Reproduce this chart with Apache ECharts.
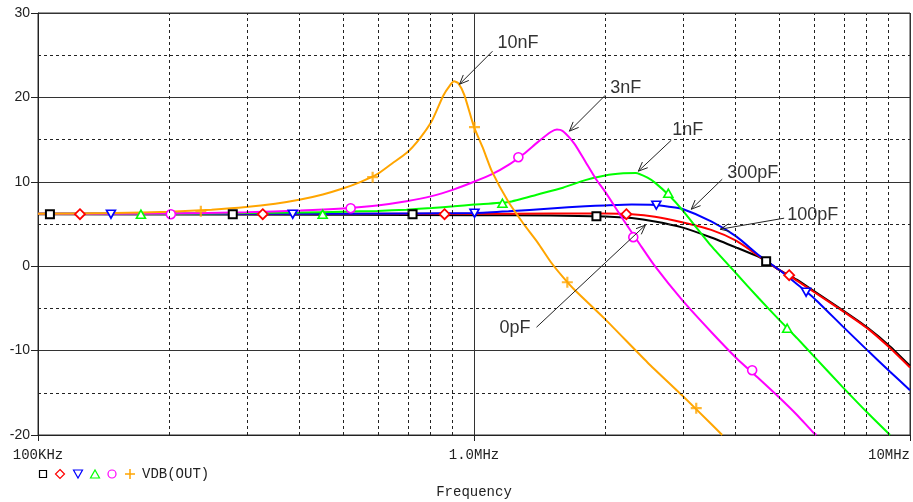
<!DOCTYPE html>
<html><head><meta charset="utf-8">
<script src="https://cdn.jsdelivr.net/npm/echarts@6/dist/echarts.min.js"></script>
<style>html,body{margin:0;padding:0;background:#fff}#c{width:913px;height:502px}</style>
</head><body><div id="c"></div>
<script>
// ---- axis ticks ----
const xTickFreqs = [1e5, 1e6, 1e7];
const xTickLabels = ['100KHz', '1.0MHz', '10MHz'];
const xMinorFreqs = [2e5,3e5,4e5,5e5,6e5,7e5,8e5,9e5,2e6,3e6,4e6,5e6,6e6,7e6,8e6,9e6];
const yMinorValues = [25, 15, 5, -5, -15];
const seriesNames = ['0pF', '100pF', '300pF', '1nF', '3nF', '10nF'];
const legendText = 'VDB(OUT)';
const xName = 'Frequency';

// ---- curves (frequency in Hz, gain in dB) ----
const freq0pF = [1e5,5e5,1e6,1.5e6,2e6,2.3e6,2.6e6,3e6,3.5e6,4e6,4.5e6,4.68e6,5e6,5.5e6,6e6,7e6,8e6,9e6,1e7];
const db0pF   = [6.15,6.1,6.05,6.0,5.9,5.7,5.3,4.6,3.4,2.2,1.1,0.6,-0.4,-1.6,-2.9,-5.2,-7.3,-9.5,-11.8];

const freq100pF = [1e5,1e6,1.5e6,2e6,2.3e6,2.6e6,3e6,3.5e6,4e6,4.5e6,5e6,5.5e6,6e6,7e6,8e6,9e6,1e7];
const db100pF   = [6.2,6.2,6.25,6.25,6.15,5.85,5.2,4.3,3.0,1.2,-0.4,-1.7,-3.0,-5.3,-7.4,-9.7,-12.0];

const freq300pF = [1e5,5e5,1e6,1.2e6,1.5e6,1.8e6,2e6,2.3e6,2.6e6,2.8e6,3e6,3.5e6,4e6,4.5e6,5e6,5.5e6,6e6,7e6,8e6,9e6,1e7];
const db300pF   = [6.2,6.2,6.3,6.5,6.85,7.1,7.2,7.3,7.25,7.05,6.8,5.3,3.5,1.3,-0.4,-2.1,-3.7,-7.1,-10.0,-12.5,-14.7];

const freq1nF = [1e5,2e5,3e5,4e5,5e5,6e5,7e5,8e5,9e5,1e6,1.2e6,1.4e6,1.6e6,1.8e6,2e6,2.2e6,2.35e6,2.5e6,2.6e6,2.8e6,3e6,3.5e6,4e6,4.5e6,5e6,5.5e6,6e6,7e6,8e6,9e6];
const db1nF   = [6.2,6.2,6.3,6.35,6.45,6.55,6.7,6.9,7.1,7.3,7.6,8.5,9.3,10.2,10.75,11.0,11.05,10.5,9.9,8.4,6.7,2.4,-0.9,-3.8,-6.3,-8.5,-10.6,-14.3,-17.4,-20.0];

const freq3nF = [1e5,2e5,3e5,4e5,5e5,6e5,7e5,8e5,9e5,1e6,1.1e6,1.2e6,1.3e6,1.4e6,1.5e6,1.55e6,1.6e6,1.7e6,1.8e6,1.9e6,2e6,2.2e6,2.4e6,2.6e6,3e6,3.5e6,4e6,4.5e6,5e6,5.5e6,6e6,6.1e6];
const db3nF   = [6.2,6.25,6.4,6.6,6.85,7.2,7.7,8.3,9.1,10.0,10.9,12.0,13.3,14.7,15.9,16.2,16.0,14.5,12.4,10.4,8.8,5.5,2.6,0.0,-4.0,-7.8,-10.9,-13.3,-15.5,-17.6,-19.7,-20.0];

const freq10nF = [1e5,1.5e5,2e5,2.5e5,3e5,3.5e5,4e5,4.5e5,5e5,5.5e5,6e5,6.5e5,7e5,7.5e5,8e5,8.5e5,8.8e5,9e5,9.2e5,9.5e5,1e6,1.05e6,1.1e6,1.2e6,1.3e6,1.4e6,1.5e6,1.6e6,1.7e6,2e6,2.5e6,3e6,3.5e6,3.71e6];
const db10nF   = [6.2,6.3,6.45,6.7,7.0,7.4,7.9,8.5,9.2,10.0,10.9,12.2,13.4,15.1,17.2,20.2,21.4,21.9,21.7,20.3,16.5,13.9,11.2,7.6,5.0,2.8,0.5,-1.3,-2.8,-6.3,-11.4,-15.3,-18.7,-20.0];

// ---- trace markers ----
const markFreq0pF = [1.065e5,2.797e5,7.229e5,1.909e6,4.678e6];
const markDb0pF   = [6.16,6.16,6.16,5.92,0.59];
const markFreq100pF = [1.248e5,3.277e5,8.559e5,2.236e6,5.283e6];
const markDb100pF   = [6.16,6.16,6.16,6.16,-1.07];
const markFreq300pF = [1.47e5,3.839e5,1.0026e6,2.619e6,5.776e6];
const markDb300pF   = [6.16,6.16,6.28,7.23,-3.08];
const markFreq1nF = [1.722e5,4.497e5,1.162e6,2.79e6,5.227e6];
const markDb1nF   = [6.16,6.16,7.46,8.65,-7.35];
const markFreq3nF = [2.017e5,5.213e5,1.264e6,2.319e6,4.345e6];
const markDb3nF   = [6.16,6.87,12.91,3.44,-12.32];
const markFreq10nF = [2.363e5,5.855e5,1.0026e6,1.637e6,3.234e6];
const markDb10nF   = [6.52,10.55,16.47,-1.90,-16.82];

// ---- annotation anchors (frequency, dB) ----
const annotations = [
  {text:'10nF',  at:[1.132e6,26.4], from:[1.1025e6,25.47], to:[9.265e5,21.56]},
  {text:'3nF',   at:[2.054e6,21.1], from:[2.001e6,20.26],  to:[1.655e6,16.0]},
  {text:'1nF',   at:[2.85e6,16.1],  from:[2.835e6,14.93],  to:[2.382e6,11.26]},
  {text:'300pF', at:[3.809e6,11.0], from:[3.71e6,10.31],   to:[3.15e6,6.75]},
  {text:'100pF', at:[5.227e6,6.04], from:[5.144e6,5.69],   to:[3.67e6,4.38]},
  {text:'0pF',   at:[1.144e6,-7.35],from:[1.391e6,-7.23],  to:[2.472e6,4.86]}
];

const colors = ['#000000','#ff0000','#0000ff','#00ff00','#ff00ff','#ffa500'];
const curveFreqs = [freq0pF,freq100pF,freq300pF,freq1nF,freq3nF,freq10nF];
const curveDbs = [db0pF,db100pF,db300pF,db1nF,db3nF,db10nF];
const markFreqs = [markFreq0pF,markFreq100pF,markFreq300pF,markFreq1nF,markFreq3nF,markFreq10nF];
const markDbs = [markDb0pF,markDb100pF,markDb300pF,markDb1nF,markDb3nF,markDb10nF];
const plusPath = 'path://M4,0H6V4H10V6H6V10H4V6H0V4H4Z';
const symbols = [
  {symbol:'rect', size:8, rot:0, bw:2},
  {symbol:'diamond', size:[10,10], rot:0, bw:1.8},
  {symbol:'triangle', size:[9,8], rot:180, bw:1.6},
  {symbol:'triangle', size:[9,8], rot:0, bw:1.6},
  {symbol:'circle', size:9, rot:0, bw:1.6},
  {symbol:plusPath, size:11, rot:0, bw:0}
];

const lg = Math.log10;
const series = [];
series.push({
  type:'line', data:[], silent:true, z:1,
  markLine:{
    silent:true, symbol:['none','none'], label:{show:false}, animation:false,
    lineStyle:{type:[3,3], color:'#222', width:1},
    emphasis:{disabled:true},
    data:[...xMinorFreqs.map(f=>({xAxis:lg(f)})), ...yMinorValues.map(v=>({yAxis:v}))]
  }
});
seriesNames.forEach((n,i)=>{
  series.push({
    name:n, type:'line', showSymbol:false, smooth:0.2, z:3,
    lineStyle:{color:colors[i], width:2}, itemStyle:{color:colors[i]},
    data: curveFreqs[i].map((f,k)=>[lg(f), curveDbs[i][k]])
  });
});
seriesNames.forEach((n,i)=>{
  const s = symbols[i];
  const isPlus = i === 5;
  series.push({
    name:n+' markers', type:'scatter', z:4,
    symbol:s.symbol, symbolSize:s.size, symbolRotate:s.rot,
    itemStyle: isPlus ? {color:colors[i], borderWidth:0} : {color:'#ffffff', borderColor:colors[i], borderWidth:s.bw, opacity:1},
    data: markFreqs[i].map((f,k)=>[lg(f), markDbs[i][k]])
  });
});

const chart = echarts.init(document.getElementById('c'), null, {renderer:'canvas'});
chart.setOption({
  animation:false,
  backgroundColor:'#ffffff',
  grid:{left:38, right:3, top:13, bottom:67, show:true, borderColor:'#333', borderWidth:1, backgroundColor:'transparent', outerBoundsMode:'none'},
  xAxis:{
    type:'value', min:lg(xTickFreqs[0]), max:lg(xTickFreqs[2]), interval:1,
    name:xName, nameLocation:'middle', nameGap:50,
    nameTextStyle:{fontFamily:'Liberation Mono', fontSize:14, color:'#222'},
    axisLine:{show:true, onZero:false, lineStyle:{color:'#222', width:1}},
    axisTick:{show:true, length:6, lineStyle:{color:'#222'}},
    axisLabel:{fontFamily:'Liberation Mono', fontSize:14, color:'#222', margin:13,
      alignMinLabel:'center', alignMaxLabel:'right', showMinLabel:true, showMaxLabel:true,
      formatter:v=>{const i=xTickFreqs.findIndex(f=>Math.abs(lg(f)-v)<1e-6);return i>=0?xTickLabels[i]:'';}},
    splitLine:{show:true, lineStyle:{color:'#333', width:1}}
  },
  yAxis:{
    type:'value', min:-20, max:30, interval:10,
    axisLine:{show:true, onZero:false, lineStyle:{color:'#222', width:1}},
    axisTick:{show:true, length:7, lineStyle:{color:'#222'}},
    axisLabel:{fontFamily:'Liberation Sans', fontSize:14, color:'#222', margin:8},
    splitLine:{show:true, lineStyle:{color:'#333', width:1}}
  },
  series
});

// ---- annotations and legend row ----
const g = [];
annotations.forEach(a=>{
  const p = chart.convertToPixel({gridIndex:0}, [lg(a.at[0]), a.at[1]]);
  const s = chart.convertToPixel({gridIndex:0}, [lg(a.from[0]), a.from[1]]);
  const t = chart.convertToPixel({gridIndex:0}, [lg(a.to[0]), a.to[1]]);
  g.push({type:'text', x:p[0], y:p[1], style:{text:a.text, fontFamily:'Liberation Sans', fontSize:18, fill:'#333', align:'left', verticalAlign:'middle'}, z:10});
  g.push({type:'line', shape:{x1:s[0],y1:s[1],x2:t[0],y2:t[1]}, style:{stroke:'#222', lineWidth:1}, z:10});
  const ang = Math.atan2(t[1]-s[1], t[0]-s[0]);
  const L = 10, da = 0.4;
  [ang+Math.PI-da, ang+Math.PI+da].forEach(b=>{
    g.push({type:'line', shape:{x1:t[0],y1:t[1],x2:t[0]+L*Math.cos(b),y2:t[1]+L*Math.sin(b)}, style:{stroke:'#222', lineWidth:1}, z:10});
  });
});
// legend symbols
const ly = 474;
const lx = [43, 60, 78, 95, 112, 130];
g.push({type:'rect', shape:{x:lx[0]-3.5, y:ly-3.5, width:7, height:7}, style:{fill:'#fff', stroke:colors[0], lineWidth:1.2}});
g.push({type:'polygon', shape:{points:[[lx[1],ly-4.5],[lx[1]+4.5,ly],[lx[1],ly+4.5],[lx[1]-4.5,ly]]}, style:{fill:'#fff', stroke:colors[1], lineWidth:1.2}});
g.push({type:'polygon', shape:{points:[[lx[2]-4.5,ly-4],[lx[2]+4.5,ly-4],[lx[2],ly+4]]}, style:{fill:'#fff', stroke:colors[2], lineWidth:1.2}});
g.push({type:'polygon', shape:{points:[[lx[3]-4.5,ly+4],[lx[3]+4.5,ly+4],[lx[3],ly-4]]}, style:{fill:'#fff', stroke:colors[3], lineWidth:1.2}});
g.push({type:'circle', shape:{cx:lx[4], cy:ly, r:4}, style:{fill:'#fff', stroke:colors[4], lineWidth:1.2}});
g.push({type:'line', shape:{x1:lx[5]-5,y1:ly,x2:lx[5]+5,y2:ly}, style:{stroke:colors[5], lineWidth:1.5}});
g.push({type:'line', shape:{x1:lx[5],y1:ly-5,x2:lx[5],y2:ly+5}, style:{stroke:colors[5], lineWidth:1.5}});
g.push({type:'text', x:142, y:ly, style:{text:legendText, fontFamily:'Liberation Mono', fontSize:14, fill:'#222', verticalAlign:'middle'}});
chart.setOption({graphic:g});
</script>
</body></html>
